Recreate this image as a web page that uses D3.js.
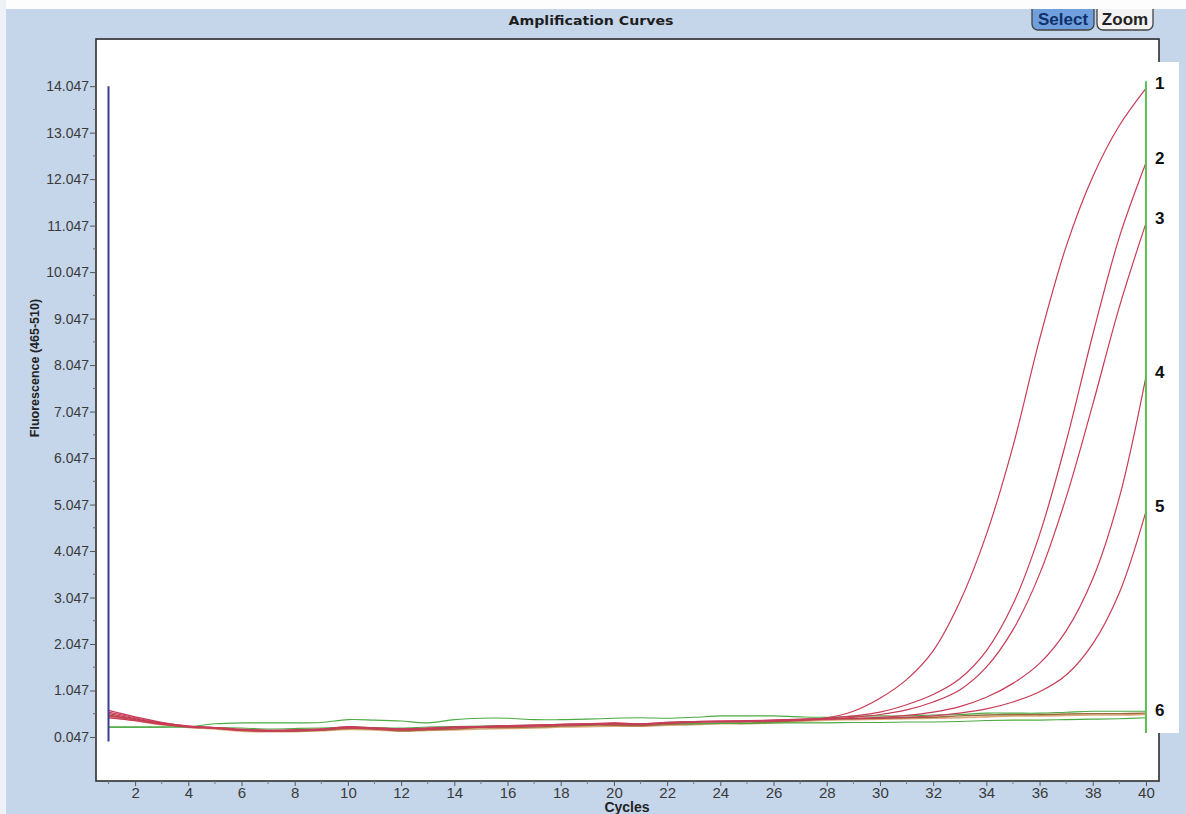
<!DOCTYPE html>
<html>
<head>
<meta charset="utf-8">
<script src="https://d3js.org/d3.v7.min.js"></script>
<style>
  body { margin: 0; background: #c6d6ea; }
  svg { display: block; font-family: Arial, "Liberation Sans", sans-serif; }
</style>
</head>
<body>
<script>
// cycles on the x axis
var cycles = [1,2,3,4,5,6,7,8,9,10,11,12,13,14,15,16,17,18,19,20,
              21,22,23,24,25,26,27,28,29,30,31,32,33,34,35,36,37,38,39,40];

// red amplification curves (fluorescence per cycle), samples 1..5
var sample1 = [0.62,0.48,0.36,0.28,0.25,0.21,0.19,0.20,0.22,0.26,0.24,0.22,0.24,0.26,0.27,0.29,0.30,0.32,0.33,0.34,
               0.33,0.36,0.38,0.39,0.39,0.41,0.42,0.46,0.60,0.88,1.28,1.90,2.95,4.40,6.30,8.60,10.60,12.10,13.20,14.00];
var sample2 = [0.55,0.44,0.34,0.27,0.24,0.20,0.18,0.19,0.20,0.25,0.23,0.21,0.22,0.25,0.26,0.28,0.29,0.31,0.32,0.33,
               0.32,0.35,0.37,0.38,0.38,0.40,0.42,0.45,0.50,0.58,0.74,0.96,1.30,1.90,2.90,4.40,6.40,8.70,10.80,12.40];
var sample3 = [0.50,0.42,0.33,0.26,0.23,0.19,0.17,0.18,0.20,0.24,0.22,0.20,0.21,0.24,0.26,0.27,0.28,0.30,0.31,0.33,
               0.31,0.34,0.36,0.37,0.38,0.39,0.41,0.43,0.47,0.53,0.63,0.80,1.06,1.55,2.35,3.55,5.20,7.20,9.30,11.10];
var sample4 = [0.46,0.40,0.32,0.27,0.24,0.20,0.18,0.19,0.21,0.25,0.23,0.21,0.23,0.25,0.26,0.28,0.29,0.31,0.32,0.34,
               0.32,0.35,0.37,0.38,0.39,0.40,0.42,0.44,0.45,0.47,0.51,0.58,0.70,0.90,1.20,1.63,2.33,3.45,5.20,7.80];
var sample5 = [0.58,0.46,0.35,0.28,0.25,0.21,0.19,0.20,0.21,0.27,0.24,0.22,0.23,0.26,0.27,0.29,0.30,0.32,0.33,0.35,
               0.33,0.36,0.38,0.39,0.40,0.41,0.43,0.44,0.44,0.45,0.47,0.50,0.56,0.65,0.80,1.02,1.38,2.05,3.15,4.90];

// flat wells in the baseline
var brownWell = [0.52,0.42,0.33,0.27,0.24,0.19,0.17,0.17,0.19,0.23,0.22,0.18,0.20,0.22,0.25,0.25,0.26,0.28,0.30,0.30,
                 0.29,0.32,0.33,0.35,0.35,0.37,0.40,0.43,0.44,0.45,0.46,0.47,0.50,0.52,0.53,0.53,0.54,0.55,0.55,0.56];
var tanWell   = [0.48,0.40,0.31,0.25,0.22,0.17,0.16,0.16,0.18,0.21,0.20,0.17,0.19,0.20,0.22,0.23,0.24,0.26,0.27,0.28,
                 0.28,0.30,0.31,0.33,0.33,0.35,0.38,0.41,0.42,0.43,0.44,0.45,0.46,0.48,0.50,0.50,0.51,0.52,0.52,0.53];
// negative controls (green)
var negA = [0.26,0.26,0.26,0.27,0.33,0.35,0.35,0.35,0.36,0.42,0.41,0.39,0.35,0.42,0.45,0.45,0.42,0.42,0.43,0.45,
            0.46,0.45,0.47,0.50,0.50,0.50,0.48,0.47,0.49,0.50,0.50,0.52,0.53,0.56,0.56,0.56,0.58,0.60,0.60,0.60];
var negB = [0.26,0.26,0.26,0.26,0.25,0.24,0.22,0.23,0.24,0.26,0.25,0.24,0.26,0.27,0.28,0.29,0.30,0.30,0.31,0.32,
            0.32,0.33,0.33,0.34,0.34,0.35,0.35,0.35,0.36,0.36,0.37,0.37,0.38,0.40,0.41,0.41,0.42,0.43,0.44,0.46];

var yTicks = [0.047,1.047,2.047,3.047,4.047,5.047,6.047,7.047,8.047,9.047,10.047,11.047,12.047,13.047,14.047];
var yMinor = [0.547,1.547,2.547,3.547,4.547,5.547,6.547,7.547,8.547,9.547,10.547,11.547,12.547,13.547];
var xTicks = [2,4,6,8,10,12,14,16,18,20,22,24,26,28,30,32,34,36,38,40];

// end labels 1..6 (value where each label sits)
var endLabels = ["1","2","3","4","5","6"];
var endValues = [14.0, 12.4, 11.1, 7.8, 4.9, 0.53];

var width = 1186, height = 814;
var plot = {left: 96, top: 40, right: 1159, bottom: 781};

var svg = d3.select("body").append("svg")
    .attr("width", width).attr("height", height);

svg.append("rect").attr("width", width).attr("height", height).attr("fill", "#c6d6ea");

var x = d3.scaleLinear().domain([0.53, 40.49]).range([plot.left, plot.right]);
var y = d3.scaleLinear().domain([-0.9, 15.04]).range([plot.bottom, plot.top]);

// plot area
svg.append("rect")
    .attr("x", plot.left).attr("y", plot.top)
    .attr("width", plot.right - plot.left).attr("height", plot.bottom - plot.top)
    .attr("fill", "#ffffff");

svg.append("clipPath").attr("id", "clip")
  .append("rect")
    .attr("x", plot.left).attr("y", plot.top)
    .attr("width", plot.right - plot.left).attr("height", plot.bottom - plot.top);

var g = svg.append("g").attr("clip-path", "url(#clip)");

function toPts(arr) {
  return arr.map(function(v, i) { return {c: cycles[i], v: v}; });
}
var line = d3.line()
    .x(function(d) { return x(d.c); })
    .y(function(d) { return y(d.v); })
    .curve(d3.curveCatmullRom.alpha(0.5));

var series = [
  {vals: tanWell,   color: "#dba878", w: 1.6},
  {vals: brownWell, color: "#9c6a3c", w: 1.4},
  {vals: negB,      color: "#4caa44", w: 1.1},
  {vals: negA,      color: "#4caa44", w: 1.1},
  {vals: sample5,   color: "#c83c58", w: 1.2},
  {vals: sample4,   color: "#c83c58", w: 1.2},
  {vals: sample3,   color: "#c83c58", w: 1.2},
  {vals: sample2,   color: "#c83c58", w: 1.2},
  {vals: sample1,   color: "#c83c58", w: 1.2}
];

g.selectAll("path.curve")
  .data(series)
  .enter().append("path")
    .attr("class", "curve")
    .attr("d", function(d) { return line(toPts(d.vals)); })
    .attr("fill", "none")
    .attr("stroke", function(d) { return d.color; })
    .attr("stroke-width", function(d) { return d.w; });

// cursor line at first cycle
var cursors = [{c: 1, top: 14.047, bottom: -0.05, color: "#3b3f8c"}];
svg.selectAll("line.cursor")
  .data(cursors)
  .enter().append("line")
    .attr("x1", function(d) { return x(d.c); })
    .attr("x2", function(d) { return x(d.c); })
    .attr("y1", function(d) { return y(d.top); })
    .attr("y2", function(d) { return y(d.bottom); })
    .attr("stroke", function(d) { return d.color; })
    .attr("stroke-width", 2);

// frame
svg.append("rect")
    .attr("x", plot.left).attr("y", plot.top - 1)
    .attr("width", plot.right - plot.left).attr("height", plot.bottom - plot.top + 1)
    .attr("fill", "none").attr("stroke", "#2e2e2e").attr("stroke-width", 1.6);

// y axis
var yAxis = svg.append("g")
    .attr("transform", "translate(" + plot.left + ",0)")
    .call(d3.axisLeft(y).tickValues(yTicks).tickSize(6).tickSizeOuter(0)
          .tickFormat(d3.format(".3f")));
yAxis.select(".domain").remove();
yAxis.selectAll("line").attr("stroke", "#555");
yAxis.selectAll("text").attr("font-size", 14).attr("fill", "#3a3a3a")
    .attr("font-family", "Arial, 'Liberation Sans', sans-serif").attr("x", -7);

svg.append("g").selectAll("line")
  .data(yMinor).enter().append("line")
    .attr("x1", plot.left - 3).attr("x2", plot.left)
    .attr("y1", function(d) { return y(d); }).attr("y2", function(d) { return y(d); })
    .attr("stroke", "#666");

// x axis
var xAxis = svg.append("g")
    .attr("transform", "translate(0," + plot.bottom + ")")
    .call(d3.axisBottom(x).tickValues(xTicks).tickSize(5).tickSizeOuter(0)
          .tickFormat(d3.format("d")));
xAxis.select(".domain").remove();
xAxis.selectAll("line").attr("stroke", "#555");
xAxis.selectAll("text").attr("font-size", 15).attr("fill", "#3a3a3a")
    .attr("font-family", "Arial, 'Liberation Sans', sans-serif").attr("y", 6);

svg.append("g").selectAll("line")
  .data(cycles.filter(function(c) { return c % 2 === 1; })).enter().append("line")
    .attr("x1", function(d) { return x(d); }).attr("x2", function(d) { return x(d); })
    .attr("y1", plot.bottom).attr("y2", plot.bottom + 3)
    .attr("stroke", "#777");

// titles
svg.append("text")
    .attr("x", 591).attr("y", 25)
    .attr("text-anchor", "middle")
    .attr("font-family", "'DejaVu Sans', Verdana, sans-serif")
    .attr("font-size", 13).attr("font-weight", "bold")
    .attr("textLength", 165).attr("lengthAdjust", "spacingAndGlyphs")
    .attr("fill", "#1e1e1e")
    .text("Amplification Curves");

svg.append("text")
    .attr("transform", "translate(39,368) rotate(-90)")
    .attr("text-anchor", "middle")
    .attr("font-size", 12.5).attr("font-weight", "bold")
    .attr("fill", "#222")
    .text("Fluorescence (465-510)");

svg.append("text")
    .attr("x", 627).attr("y", 812)
    .attr("text-anchor", "middle")
    .attr("font-size", 14).attr("font-weight", "bold")
    .attr("fill", "#222")
    .text("Cycles");

// white label strip over the right edge, with the last-cycle cursor
svg.append("rect")
    .attr("x", 1148).attr("y", 62).attr("width", 31).attr("height", 671)
    .attr("fill", "#ffffff");
var lastCursor = [{c: 40, top: 14.15, bottom: 0.13, color: "#5cbf52"}];
svg.selectAll("line.last")
  .data(lastCursor)
  .enter().append("line")
    .attr("class", "last")
    .attr("x1", function(d) { return x(d.c); })
    .attr("x2", function(d) { return x(d.c); })
    .attr("y1", function(d) { return y(d.top); })
    .attr("y2", function(d) { return y(d.bottom); })
    .attr("stroke", function(d) { return d.color; })
    .attr("stroke-width", 2);

svg.selectAll("text.endlabel")
  .data(endLabels)
  .enter().append("text")
    .attr("class", "endlabel")
    .attr("x", 1155)
    .attr("y", function(d, i) { return y(endValues[i]) + 1; })
    .attr("font-size", 17).attr("font-weight", "bold")
    .attr("fill", "#111")
    .text(function(d) { return d; });

// buttons
var btns = [{label: "Select", x: 1032, w: 62, fill: "#6f9fdc", color: "#10306a"},
            {label: "Zoom",   x: 1097, w: 56, fill: "#f3f3f3", color: "#222"}];
var b = svg.selectAll("g.btn").data(btns).enter().append("g").attr("class", "btn");
b.append("rect")
    .attr("x", function(d) { return d.x; }).attr("y", -4)
    .attr("width", function(d) { return d.w; }).attr("height", 34)
    .attr("rx", 6)
    .attr("fill", function(d) { return d.fill; })
    .attr("stroke", "#444").attr("stroke-width", 1.3);
b.append("text")
    .attr("x", function(d) { return d.x + d.w / 2; }).attr("y", 25)
    .attr("text-anchor", "middle")
    .attr("font-size", 17).attr("font-weight", "bold")
    .attr("fill", function(d) { return d.color; })
    .text(function(d) { return d.label; });

// scan margins
svg.append("rect").attr("x", 0).attr("y", 0).attr("width", width).attr("height", 9).attr("fill", "#fdfdfd");
svg.append("rect").attr("x", 0).attr("y", 0).attr("width", 6).attr("height", height).attr("fill", "#eef2f8");
</script>
</body>
</html>
